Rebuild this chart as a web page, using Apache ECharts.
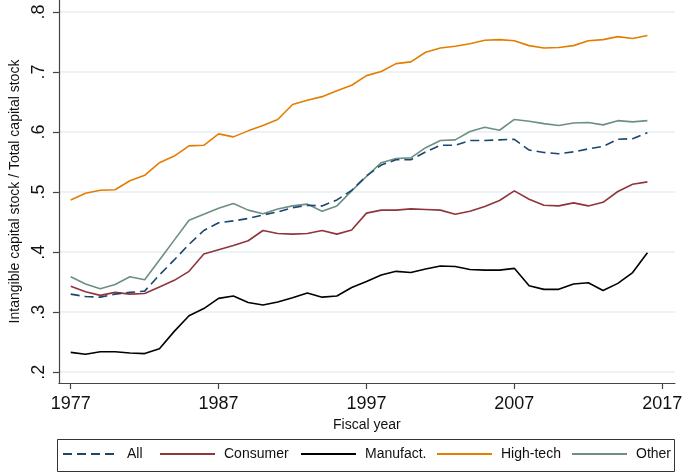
<!DOCTYPE html>
<html>
<head>
<meta charset="utf-8">
<script src="https://cdn.jsdelivr.net/npm/echarts@6/dist/echarts.min.js"></script>
<style>html,body{margin:0;padding:0;background:#fff;}#c{width:685px;height:472px;}</style>
</head>
<body>
<div id="c"></div>
<script>
const years = [1977,1978,1979,1980,1981,1982,1983,1984,1985,1986,1987,1988,1989,1990,1991,1992,1993,1994,1995,1996,1997,1998,1999,2000,2001,2002,2003,2004,2005,2006,2007,2008,2009,2010,2011,2012,2013,2014,2015,2016];
const allV = [.330,.326,.325,.330,.333,.335,.362,.387,.413,.436,.449,.452,.456,.462,.467,.474,.478,.477,.487,.503,.527,.545,.554,.554,.567,.578,.578,.586,.586,.587,.588,.570,.566,.564,.567,.572,.576,.588,.589,.599];
const consumer = [.343,.334,.328,.333,.330,.331,.342,.353,.368,.397,.404,.411,.419,.436,.431,.430,.431,.436,.430,.437,.465,.470,.470,.472,.471,.470,.463,.468,.476,.486,.502,.488,.478,.477,.482,.477,.483,.501,.513,.517];
const manufact = [.233,.230,.234,.234,.232,.231,.239,.268,.294,.306,.323,.327,.316,.312,.317,.324,.332,.325,.327,.341,.351,.362,.368,.366,.372,.377,.376,.371,.370,.370,.373,.344,.338,.338,.347,.349,.336,.348,.366,.399];
const hightech = [.487,.498,.503,.504,.519,.528,.549,.560,.577,.578,.597,.592,.602,.611,.621,.646,.653,.659,.669,.678,.694,.701,.714,.717,.733,.740,.743,.747,.753,.754,.752,.744,.740,.741,.744,.752,.754,.759,.756,.761];
const other = [.359,.347,.339,.346,.359,.354,.387,.420,.453,.463,.473,.481,.470,.464,.472,.477,.480,.468,.477,.502,.526,.549,.556,.557,.574,.586,.587,.601,.608,.603,.621,.618,.614,.611,.615,.616,.612,.619,.617,.619];
const xTicks = [1977,1987,1997,2007,2017];
const yTicks = [0.2,0.3,0.4,0.5,0.6,0.7,0.8];
const names = ['All','Consumer','Manufact.','High-tech','Other'];

const pairs = arr => years.map((y,i)=>[y,arr[i]]);
const FONT = '"Liberation Sans", Arial, sans-serif';
const colors = ['#1a476f','#90353b','#000000','#e37e00','#6e8e84'];
const seriesVals = [allV, consumer, manufact, hightech, other];
const legendLeft = [62,159,300,436,571];

const chart = echarts.init(document.getElementById('c'), null, {renderer:'canvas'});
chart.setOption({
  animation:false,
  backgroundColor:'#fff',
  grid:{left:48,right:8,top:0,bottom:89,containLabel:false},
  xAxis:{
    type:'value', min:1976.2, max:2017.86,
    name:'Fiscal year', nameLocation:'middle', nameGap:31,
    nameTextStyle:{fontFamily:FONT,fontSize:14,color:'#111'},
    axisLine:{show:true,lineStyle:{color:'#444',width:1.2}},
    axisTick:{show:true,length:6,customValues:xTicks,lineStyle:{color:'#444',width:1.2}},
    axisLabel:{customValues:xTicks,fontFamily:FONT,fontSize:18,color:'#111',margin:12,formatter:v=>String(v)},
    splitLine:{show:false}
  },
  yAxis:{
    type:'value', min:0.182, max:0.82,
    name:'Intangible capital stock / Total capital stock', nameLocation:'middle', nameGap:36,
    nameTextStyle:{fontFamily:FONT,fontSize:14,color:'#111'},
    axisLine:{show:true,lineStyle:{color:'#444',width:1.2}},
    axisTick:{show:true,length:6,customValues:yTicks,lineStyle:{color:'#444',width:1.2}},
    axisLabel:{customValues:yTicks,rotate:90,fontFamily:FONT,fontSize:18,color:'#111',margin:11,
      formatter:v=>{const s=(Math.round(v*10)/10).toFixed(1);return s.replace(/^0/,'');}},
    splitLine:{show:true,lineStyle:{color:'#e6eef2',width:1.5}}
  },
  legend: names.map((n,i)=>({
    data:[n], left:legendLeft[i], top:447, padding:0,
    itemWidth:55, itemHeight:14, selectedMode:false,
    itemStyle:{opacity:0},
    textStyle:{fontFamily:FONT,fontSize:14,color:'#111',padding:[0,0,0,4]}
  })),
  graphic:[{type:'rect',left:55,top:437,shape:{width:617,height:32},style:{fill:'none',stroke:'#333',lineWidth:1}}],
  series: names.map((n,i)=>({
    name:n, type:'line', data:pairs(seriesVals[i]), symbol:'none', showSymbol:false,
    lineStyle:{color:colors[i],width:1.6,type:i===0?[9,5]:'solid'},
    itemStyle:{color:colors[i]},
    z: i===0?10:(5-i)
  }))
});
</script>
</body>
</html>
